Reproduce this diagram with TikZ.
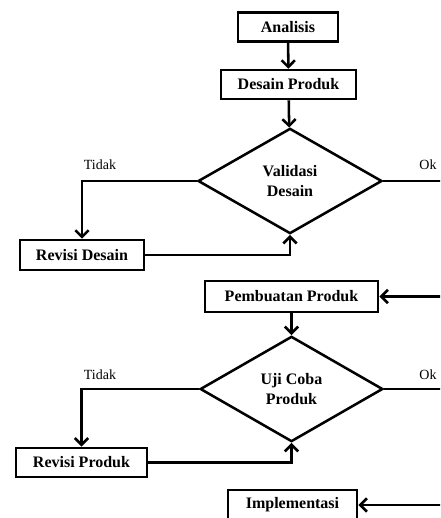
\documentclass[tikz,border=0pt]{standalone}
\usepackage{fontspec}
\setmainfont{Liberation Serif}
\usetikzlibrary{arrows.meta,shapes.geometric}

\begin{document}
\begin{tikzpicture}[x=0.75pt,y=-0.75pt,
    langkah/.style={draw,line width=1.9pt,inner sep=0pt,font=\bfseries\fontsize{12}{15}\selectfont},
    keputusan/.style={diamond,draw,line width=1.9pt,inner sep=0pt,align=center,font=\bfseries\fontsize{12}{15}\selectfont},
    panah/.style={line width=1.9pt,-{Straight Barb[length=5pt,width=10pt]}},
    ket/.style={font=\fontsize{10.5}{12}\selectfont}]
   \useasboundingbox (0,0) rectangle (440,518);
   \clip (0,0) rectangle (440,518);

   \draw (288,27) node[langkah,minimum width=75pt,minimum height=21.75pt] (analisis) {Analisis};
   \draw (288.5,84.5) node[langkah,minimum width=101pt,minimum height=21.75pt] (desain) {Desain Produk};
   \draw (290,181) node[keputusan,minimum width=138pt,minimum height=79pt] (validasi) {Validasi\\Desain};
   \draw (82,255) node[langkah,minimum width=93pt,minimum height=22.5pt] (revdesain) {Revisi Desain};
   \draw (291.5,296.5) node[langkah,minimum width=130pt,minimum height=23pt] (pembuatan) {Pembuatan Produk};
   \draw (291.5,389) node[keputusan,minimum width=137pt,minimum height=79pt] (ujicoba) {Uji Coba\\Produk};
   \draw (81.5,462.5) node[langkah,minimum width=98pt,minimum height=22pt] (revproduk) {Revisi Produk};
   \draw (292.5,505) node[langkah,minimum width=97pt,minimum height=22.5pt] (implementasi) {Implementasi};

   \draw (100,165) node[ket] (tidak1) {Tidak};
   \draw (428,165) node[ket] (ok1) {Ok};
   \draw (100,375) node[ket] (tidak2) {Tidak};
   \draw (428,375) node[ket] (ok2) {Ok};
   \coordinate (kanan) at (470,0);

   \draw[panah] (analisis) -- (desain);
   \draw[panah] (desain) -- (validasi);
   \draw[panah] (validasi.west) -| (revdesain.north);
   \draw[panah] (revdesain.east) -| (validasi.south);
   \draw[panah] (validasi.east) -- (validasi.east -| kanan) |- (pembuatan.east);
   \draw[panah] (pembuatan) -- (ujicoba);
   \draw[panah] (ujicoba.west) -| (revproduk.north);
   \draw[panah] (revproduk.east) -| (ujicoba.south);
   \draw[panah] (ujicoba.east) -- (ujicoba.east -| kanan) |- (implementasi.east);
\end{tikzpicture}
\end{document}
